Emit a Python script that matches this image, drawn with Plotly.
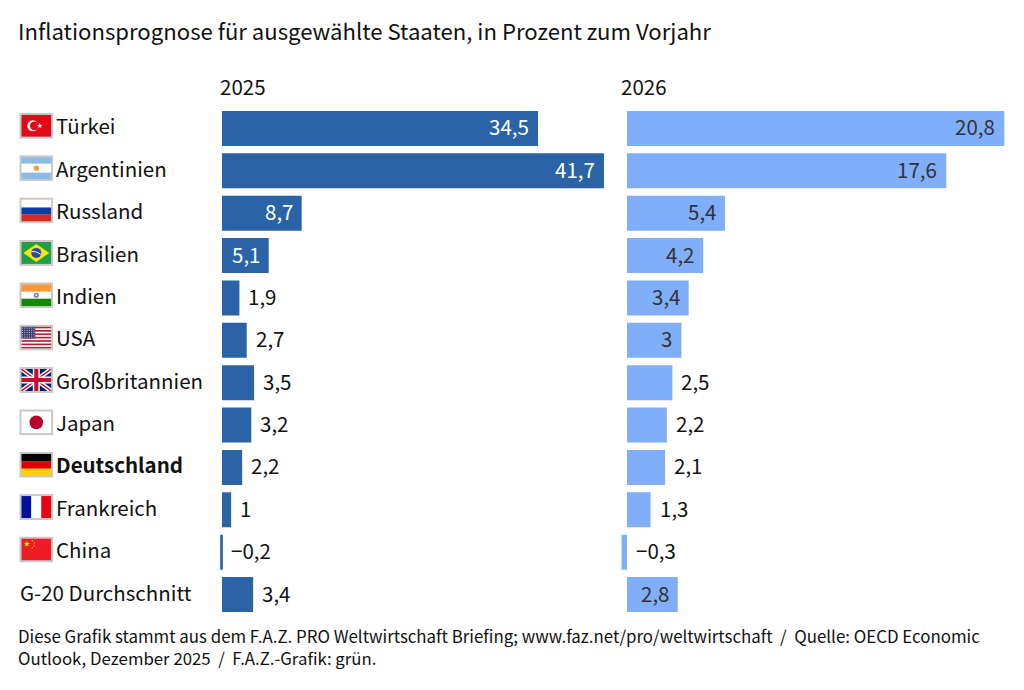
import base64
import math
import plotly.graph_objects as go

TITLE = "Inflationsprognose für ausgewählte Staaten, in Prozent zum Vorjahr"
YEARS = ["2025", "2026"]
CATEGORIES = ["Türkei", "Argentinien", "Russland", "Brasilien", "Indien", "USA",
              "Großbritannien", "Japan", "Deutschland", "Frankreich", "China", "G-20 Durchschnitt"]
VALUES_2025 = [34.5, 41.7, 8.7, 5.1, 1.9, 2.7, 3.5, 3.2, 2.2, 1, -0.2, 3.4]
VALUES_2026 = [20.8, 17.6, 5.4, 4.2, 3.4, 3, 2.5, 2.2, 2.1, 1.3, -0.3, 2.8]
INSIDE_2025 = ["Türkei", "Argentinien", "Russland", "Brasilien"]
INSIDE_2026 = ["Türkei", "Argentinien", "Russland", "Brasilien", "Indien", "USA", "G-20 Durchschnitt"]
FOOTER = ["Diese Grafik stammt aus dem F.A.Z. PRO Weltwirtschaft Briefing; www.faz.net/pro/weltwirtschaft \u00a0/\u00a0 Quelle: OECD Economic",
          "Outlook, Dezember 2025 \u00a0/\u00a0 F.A.Z.-Grafik: grün."]

FONT = "Noto Sans CJK SC"
C25, C26 = "#2a64a6", "#80aef8"
W, H = 1024, 690

def star(cx, cy, r, fill):
    pts = []
    for k in range(10):
        rr = r if k % 2 == 0 else r * 0.4
        a = -math.pi / 2 + k * math.pi / 5
        pts.append(f"{cx + rr * math.cos(a):.2f},{cy + rr * math.sin(a):.2f}")
    return f'<polygon points="{" ".join(pts)}" fill="{fill}"/>'

def us():
    s = '<rect width="30" height="22" fill="#fff"/>'
    for k in range(0, 13, 2):
        s += f'<rect y="{k * 22 / 13:.2f}" width="30" height="{22 / 13:.2f}" fill="#b22234"/>'
    s += '<rect width="14" height="11.9" fill="#3c3b6e"/>'
    for r in range(5):
        for c in range(6):
            s += f'<circle cx="{1.2 + c * 2.3:.1f}" cy="{1.3 + r * 2.3:.1f}" r=".5" fill="#fff"/>'
    return s

FLAGS = {
    "Türkei": '<rect width="30" height="22" fill="#e30a17"/><circle cx="11.5" cy="11" r="5.5" fill="#fff"/>'
              '<circle cx="13" cy="11" r="4.4" fill="#e30a17"/>' + star(18.5, 11, 2.8, "#fff"),
    "Argentinien": '<rect width="30" height="22" fill="#8dbbe8"/><rect y="6.5" width="30" height="9" fill="#fff"/>'
                   '<circle cx="15" cy="11" r="2.6" fill="#e8a33d"/>',
    "Russland": '<rect width="30" height="8" fill="#fff"/><rect y="8" width="30" height="7" fill="#0a3aa5"/>'
                '<rect y="15" width="30" height="7" fill="#d52b1e"/>',
    "Brasilien": '<rect width="30" height="22" fill="#229e45"/><polygon points="15,2 28,11 15,20 2,11" fill="#f8e509"/>'
                 '<circle cx="15" cy="11" r="5" fill="#2b49a3"/><path d="M10.3 9.6 Q15 9 19.8 12.6" stroke="#fff" stroke-width=".9" fill="none"/>',
    "Indien": '<rect width="30" height="7.5" fill="#ff9933"/><rect y="7.5" width="30" height="7" fill="#fff"/>'
              '<rect y="14.5" width="30" height="7.5" fill="#138808"/><circle cx="15" cy="11" r="2.6" fill="#7c7cc4"/>'
              '<circle cx="15" cy="11" r="1" fill="#fff"/>',
    "USA": us(),
    "Großbritannien": '<rect width="30" height="22" fill="#012169"/><path d="M0 0L30 22M30 0L0 22" stroke="#fff" stroke-width="4.4"/>'
                      '<path d="M0 0L30 22M30 0L0 22" stroke="#c8102e" stroke-width="1.5"/>'
                      '<path d="M15 0V22M0 11H30" stroke="#fff" stroke-width="7"/><path d="M15 0V22M0 11H30" stroke="#c8102e" stroke-width="4.2"/>',
    "Japan": '<rect width="30" height="22" fill="#fff"/><circle cx="15" cy="11" r="6.8" fill="#bc002d"/>',
    "Deutschland": '<rect width="30" height="7.5" fill="#000"/><rect y="7.5" width="30" height="7.5" fill="#e00000"/>'
                   '<rect y="15" width="30" height="7" fill="#ffce00"/>',
    "Frankreich": '<rect width="10" height="22" fill="#00129b"/><rect x="10" width="10" height="22" fill="#fff"/>'
                  '<rect x="20" width="10" height="22" fill="#e30613"/>',
    "China": '<rect width="30" height="22" fill="#ee1c25"/>' + star(5.5, 5.5, 3.2, "#ffff00") + star(11, 2.2, 1, "#ffff00")
             + star(13, 4.3, 1, "#ffff00") + star(13, 7.3, 1, "#ffff00") + star(11, 9.3, 1, "#ffff00"),
}

def uri(body):
    svg = ('<svg xmlns="http://www.w3.org/2000/svg" width="136" height="104" viewBox="-2 -2 34 26">'
           '<rect x="-2" y="-2" width="34" height="26" fill="#c9c9c9"/>'
           f'<svg x="0" y="0" width="30" height="22" viewBox="0 0 30 22">{body}</svg></svg>')
    return "data:image/svg+xml;base64," + base64.b64encode(svg.encode()).decode()

def fmt(v):
    return f"{v:g}".replace(".", ",").replace("-", "\u2212")

# plot geometry
TOP, BOTTOM = 107.3, 615.7
STEP = (BOTTOM - TOP) / len(CATEGORIES)
X0A, PPU_A = 222.0, 9.16
X0B, PPU_B = 627.0, 18.14
RANGE_A, RANGE_B = [-1, 42], [-1, 21]

fig = go.Figure()
fig.add_trace(go.Bar(x=VALUES_2025, y=CATEGORIES, orientation="h", marker=dict(color=C25, line_width=0),
                     xaxis="x", yaxis="y", hoverinfo="skip", showlegend=False))
fig.add_trace(go.Bar(x=VALUES_2026, y=CATEGORIES, orientation="h", marker=dict(color=C26, line_width=0),
                     xaxis="x2", yaxis="y", hoverinfo="skip", showlegend=False))

ann = []
def text(t, x, y, size, xanchor="left", color="#111", xref="paper", yref="paper", xshift=0, yshift=0):
    ann.append(dict(text=t, x=x, y=y, xref=xref, yref=yref, xanchor=xanchor, yanchor="middle", showarrow=False,
                    xshift=xshift, yshift=yshift, align="left", borderpad=0,
                    font=dict(family=FONT, size=size, color=color)))

def px(x):
    return x / W
def py(y):
    return 1 - y / H

text(TITLE, px(17), py(30), 22.13)
text(YEARS[0], px(219), py(86), 20.5)
text(YEARS[1], px(620), py(86), 20.5)
text(FOOTER[0], px(17), py(635), 16.87)
text(FOOTER[1], px(17), py(658), 16.8)

images = []
for i, cat in enumerate(CATEGORIES):
    cy = TOP + (i + 0.5) * STEP
    if cat in FLAGS:
        lab = f"<b>{cat}</b>" if cat == "Deutschland" else cat
        text(lab, px(55), py(cy - 3), 20.5)
        images.append(dict(source=uri(FLAGS[cat]), xref="paper", yref="paper", x=px(19.3), y=py(cy - 15.7),
                           sizex=34 / W, sizey=26 / H, sizing="stretch", xanchor="left", yanchor="top", layer="above"))
    else:
        text(cat, px(19), py(cy - 3), 20.5)
    for vals, axis, inside, col in ((VALUES_2025, "x", INSIDE_2025, "#fff"), (VALUES_2026, "x2", INSIDE_2026, "#333")):
        v = vals[i]
        if cat in inside:
            text(fmt(v), v, cat, 20.5, "right", col, axis, "y", xshift=-8, yshift=2)
        else:
            text(fmt(v), max(v, 0), cat, 20.5, "left", "#111", axis, "y", xshift=8, yshift=2)

axis_off = dict(visible=False, fixedrange=True)
fig.update_layout(
    width=W, height=H, margin=dict(l=0, r=0, t=0, b=0), paper_bgcolor="#fff", plot_bgcolor="#fff",
    barmode="overlay", bargap=1 - 35 / STEP, showlegend=False,
    xaxis=dict(axis_off, range=RANGE_A, domain=[(X0A + RANGE_A[0] * PPU_A) / W, (X0A + RANGE_A[1] * PPU_A) / W], anchor="y"),
    xaxis2=dict(axis_off, range=RANGE_B, domain=[(X0B + RANGE_B[0] * PPU_B) / W, (X0B + RANGE_B[1] * PPU_B) / W], anchor="y"),
    yaxis=dict(axis_off, type="category", categoryorder="array", categoryarray=CATEGORIES, autorange="reversed",
               domain=[py(BOTTOM), py(TOP)]),
    annotations=ann, images=images,
)
fig.write_html("out.html", config={"displayModeBar": False},
               post_script="document.body.style.margin='0';document.body.style.overflow='hidden';")
